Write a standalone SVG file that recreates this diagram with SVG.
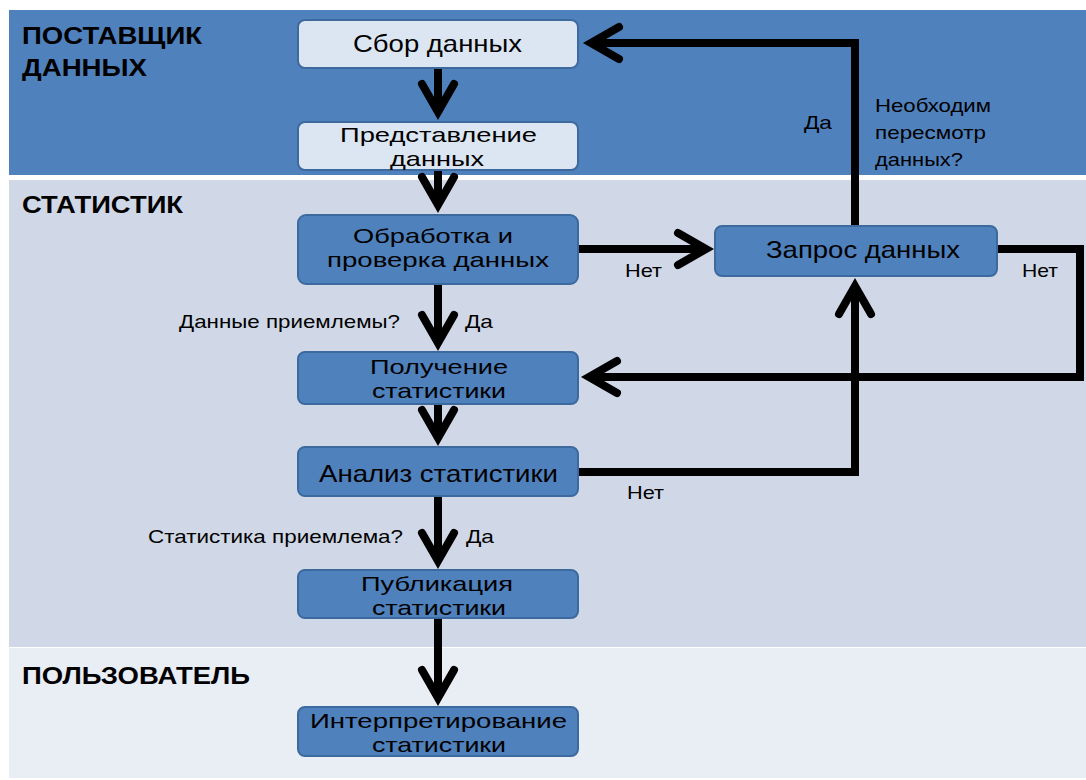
<svg xmlns="http://www.w3.org/2000/svg" width="1086" height="780" viewBox="0 0 1086 780">
<defs>
<style>
.lane-title{font-family:"Liberation Sans",Arial,sans-serif;font-weight:bold;font-size:23px;fill:#000}
.box-light{fill:#DCE6F2;stroke:#3D6A9E;stroke-width:2}
.box-dark{fill:#4F81BD;stroke:#3D6A9E;stroke-width:2}
.btxt{font-family:"Liberation Sans",Arial,sans-serif;font-size:24px;fill:#000}
.btxt2{font-family:"Liberation Sans",Arial,sans-serif;font-size:21px;fill:#000}
.lbl{font-family:"Liberation Sans",Arial,sans-serif;font-size:19px;fill:#000}
.conn{fill:none;stroke:#000;stroke-width:8;stroke-linejoin:miter}
</style>
<marker id="chev" markerUnits="userSpaceOnUse" viewBox="0 0 44 36" markerWidth="44" markerHeight="36" refX="30" refY="18" orient="auto" overflow="visible">
<path d="M2,2 L30,18 L2,34" fill="none" stroke="#000" stroke-width="8" stroke-linecap="round" stroke-linejoin="miter"/>
</marker>
</defs>
<rect width="1086" height="780" fill="#FFFFFF"/>
<g id="lanes">
<rect x="9" y="10" width="1077" height="165" fill="#4F81BD"/>
<rect x="9" y="180" width="1077" height="467" fill="#D0D8E7"/>
<rect x="9" y="648" width="1077" height="130" fill="#E9EDF4"/>
<text class="lane-title" x="22" y="44" textLength="180" lengthAdjust="spacingAndGlyphs">ПОСТАВЩИК</text>
<text class="lane-title" x="22" y="76" textLength="125" lengthAdjust="spacingAndGlyphs">ДАННЫХ</text>
<text class="lane-title" x="22" y="213" textLength="161" lengthAdjust="spacingAndGlyphs">СТАТИСТИК</text>
<text class="lane-title" x="22" y="684" textLength="228" lengthAdjust="spacingAndGlyphs">ПОЛЬЗОВАТЕЛЬ</text>
</g>
<g id="connectors">
<path class="conn" d="M438,68 V112" marker-end="url(#chev)"/>
<path class="conn" d="M438,170 V205" marker-end="url(#chev)"/>
<path class="conn" d="M438,284 V343" marker-end="url(#chev)"/>
<path class="conn" d="M438,404 V438" marker-end="url(#chev)"/>
<path class="conn" d="M438,496 V561" marker-end="url(#chev)"/>
<path class="conn" d="M438,618 V698" marker-end="url(#chev)"/>
<path class="conn" d="M578,249 H706" marker-end="url(#chev)"/>
<path class="conn" d="M855,226 V43 H591" marker-end="url(#chev)"/>
<path class="conn" d="M997,249 H1080 V377 H589" marker-end="url(#chev)"/>
<path class="conn" d="M578,472 H855 V286" marker-end="url(#chev)"/>
<text class="lbl" x="804" y="129" textLength="28" lengthAdjust="spacingAndGlyphs">Да</text>
<text class="lbl" x="875" y="112" textLength="116" lengthAdjust="spacingAndGlyphs">Необходим</text>
<text class="lbl" x="875" y="139" textLength="111" lengthAdjust="spacingAndGlyphs">пересмотр</text>
<text class="lbl" x="875" y="166" textLength="88" lengthAdjust="spacingAndGlyphs">данных?</text>
<text class="lbl" x="625" y="277" textLength="37" lengthAdjust="spacingAndGlyphs">Нет</text>
<text class="lbl" x="1022" y="277" textLength="36" lengthAdjust="spacingAndGlyphs">Нет</text>
<text class="lbl" x="627" y="499" textLength="37" lengthAdjust="spacingAndGlyphs">Нет</text>
<text class="lbl" x="179" y="328" textLength="221" lengthAdjust="spacingAndGlyphs">Данные приемлемы?</text>
<text class="lbl" x="465" y="328" textLength="28" lengthAdjust="spacingAndGlyphs">Да</text>
<text class="lbl" x="148" y="543" textLength="255" lengthAdjust="spacingAndGlyphs">Статистика приемлема?</text>
<text class="lbl" x="466" y="543" textLength="28" lengthAdjust="spacingAndGlyphs">Да</text>
</g>
<g id="node-sbor">
<rect class="box-light" x="298" y="20" width="280" height="48" rx="7"/>
<text class="btxt" x="353" y="52" textLength="169" lengthAdjust="spacingAndGlyphs">Сбор данных</text>
</g>
<g id="node-predstavlenie">
<rect class="box-light" x="298" y="122" width="280" height="48" rx="7"/>
<text class="btxt2" x="340" y="142" textLength="197" lengthAdjust="spacingAndGlyphs">Представление</text>
<text class="btxt2" x="390" y="166" textLength="94" lengthAdjust="spacingAndGlyphs">данных</text>
</g>
<g id="node-obrabotka">
<rect class="box-dark" x="298" y="215" width="280" height="69" rx="8"/>
<text class="btxt2" x="353" y="243" textLength="160" lengthAdjust="spacingAndGlyphs">Обработка и</text>
<text class="btxt2" x="327" y="267" textLength="222" lengthAdjust="spacingAndGlyphs">проверка данных</text>
</g>
<g id="node-zapros">
<rect class="box-dark" x="715" y="226" width="282" height="50" rx="7"/>
<text class="btxt" x="766" y="258" textLength="194" lengthAdjust="spacingAndGlyphs">Запрос данных</text>
</g>
<g id="node-poluchenie">
<rect class="box-dark" x="298" y="352" width="280" height="52" rx="7"/>
<text class="btxt2" x="370" y="374" textLength="138" lengthAdjust="spacingAndGlyphs">Получение</text>
<text class="btxt2" x="372" y="398" textLength="134" lengthAdjust="spacingAndGlyphs">статистики</text>
</g>
<g id="node-analiz">
<rect class="box-dark" x="298" y="447" width="280" height="49" rx="7"/>
<text class="btxt" x="319" y="482" textLength="239" lengthAdjust="spacingAndGlyphs">Анализ статистики</text>
</g>
<g id="node-publikacia">
<rect class="box-dark" x="298" y="570" width="280" height="48" rx="7"/>
<text class="btxt2" x="361" y="591" textLength="152" lengthAdjust="spacingAndGlyphs">Публикация</text>
<text class="btxt2" x="372" y="615" textLength="134" lengthAdjust="spacingAndGlyphs">статистики</text>
</g>
<g id="node-interpretirovanie">
<rect class="box-dark" x="298" y="707" width="280" height="49" rx="7"/>
<text class="btxt2" x="310" y="728" textLength="257" lengthAdjust="spacingAndGlyphs">Интерпретирование</text>
<text class="btxt2" x="372" y="752" textLength="134" lengthAdjust="spacingAndGlyphs">статистики</text>
</g>
</svg>
